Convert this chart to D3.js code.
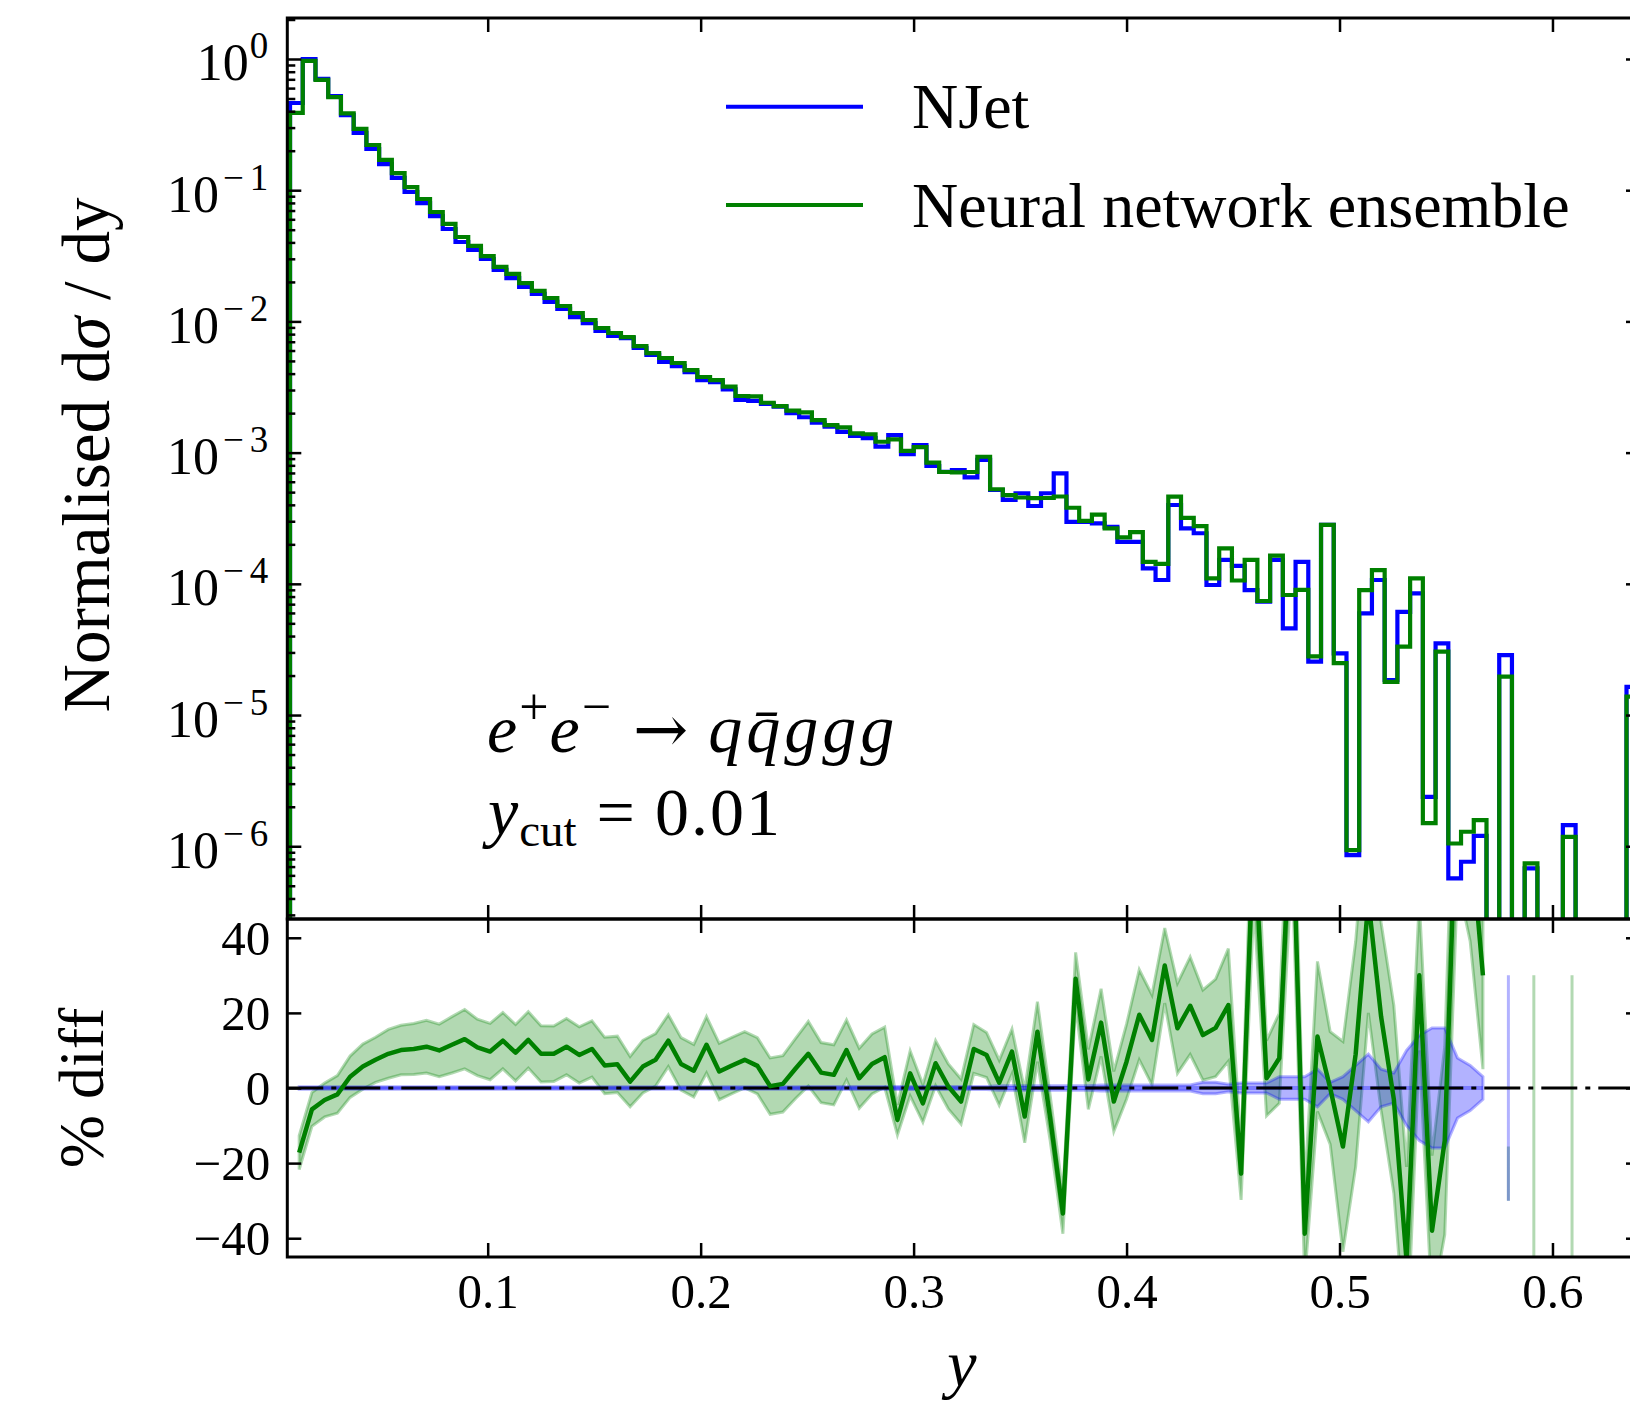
<!DOCTYPE html>
<html>
<head>
<meta charset="utf-8">
<title>NJet vs neural network ensemble</title>
<script src="https://cdn.jsdelivr.net/npm/d3@7"></script>
<style>
  body { margin: 0; background: #fff; }
  text { font-family: "Liberation Serif", "DejaVu Serif", serif; fill: #000; }
</style>
</head>
<body>
<svg id="chart"></svg>
<script>
// Histogram binning in y (106 equal-width bins)
const binStart = 0.00718;
const binWidth = 0.005977;

// Normalised dsigma/dy, NJet (0 = empty bin)
const njet = [
  0.462, 1.0, 0.705, 0.522, 0.374, 0.273, 0.206, 0.158, 0.124, 0.0969,
  0.0798, 0.0635, 0.0506, 0.0403, 0.0350, 0.0299, 0.0247, 0.0214, 0.0183, 0.0162,
  0.0141, 0.01245, 0.0108, 0.00972, 0.00845, 0.00774, 0.00747, 0.00627, 0.00555, 0.00491,
  0.00457, 0.00411, 0.00357, 0.00345, 0.00303, 0.00252, 0.00248, 0.00235, 0.00224, 0.00200,
  0.00186, 0.00169, 0.00158, 0.00144, 0.00134, 0.00129, 0.00111, 0.00136, 0.000975, 0.00114,
  0.000791, 0.000715, 0.000736, 0.000648, 0.000879, 0.000519, 0.000436, 0.000490, 0.000392, 0.000490,
  0.000695, 0.000297, 0.000297, 0.000289, 0.000272, 0.000209, 0.000209, 0.000131, 0.000107, 0.000399,
  0.000265, 0.000243, 9.8e-5, 1.52e-4, 1.37e-4, 8.97e-5, 7.31e-5, 1.52e-4, 4.58e-5, 1.47e-4,
  2.55e-5, 2.81e-4, 2.95e-5, 8.57e-7, 5.96e-5, 1.07e-4, 1.85e-5, 6.12e-5, 8.47e-5, 2.38e-6,
  3.52e-5, 5.69e-7, 7.62e-7, 1.20e-6, 0, 2.86e-5, 0, 6.79e-7, 0, 0,
  1.45e-6, 0, 0, 0, 0, 1.64e-5
];

// Normalised dsigma/dy, neural network ensemble
const ensemble = [
  0.388, 0.966, 0.692, 0.513, 0.385, 0.293, 0.221, 0.170, 0.135, 0.1057,
  0.0857, 0.0682, 0.0553, 0.0440, 0.0376, 0.0315, 0.0260, 0.0230, 0.0196, 0.0171,
  0.01508, 0.01310, 0.01159, 0.01025, 0.00891, 0.00816, 0.00760, 0.00649, 0.00574, 0.00526,
  0.00482, 0.00426, 0.00377, 0.00357, 0.00318, 0.00270, 0.00268, 0.00240, 0.00226, 0.00209,
  0.00203, 0.00177, 0.00162, 0.00156, 0.00140, 0.00138, 0.00121, 0.00126, 0.00103, 0.00110,
  0.000838, 0.000712, 0.000708, 0.000712, 0.00093, 0.000526, 0.000475, 0.000455, 0.00045, 0.000451,
  0.000463, 0.00038, 0.000302, 0.000337, 0.000265, 0.000226, 0.000248, 0.000147, 0.000142, 0.000462,
  0.000318, 0.000275, 0.00011, 0.000186, 0.000106, 0.000152, 7.4e-5, 0.000164, 8.22e-5, 9.0e-5,
  2.8e-5, 2.81e-4, 2.49e-5, 9.35e-7, 8.97e-5, 1.27e-4, 1.79e-5, 3.32e-5, 1.10e-4, 1.50e-6,
  3.04e-5, 1.05e-6, 1.29e-6, 1.58e-6, 0, 1.96e-5, 0, 7.41e-7, 0, 0,
  1.18e-6, 0, 0, 0, 0, 1.38e-5
];

// % difference of the ensemble w.r.t. NJet (null = not drawn)
const pctDiff = [
  -17.2, -5.7, -3.2, -1.7, 3.0, 5.7, 7.5, 9.1, 10.1, 10.4,
  11.0, 10.0, 11.5, 13.0, 10.8, 9.7, 12.6, 9.4, 12.8, 9.1,
  9.1, 11.0, 8.8, 10.4, 6.0, 6.3, 1.7, 5.7, 7.5, 12.6,
  6.4, 4.6, 11.5, 4.4, 6.0, 7.5, 5.9, 0.5, 1.1, 5.2,
  9.1, 4.1, 3.5, 10.1, 2.6, 6.4, 8.2, -8.5, 3.9, -4.1,
  6.6, 0.4, -3.6, 10.4, 8.8, 1.4, 9.7, -7.6, 15.0, -8.0,
  -33.4, 29.1, 2.3, 17.4, -3.6, 7.0, 19.5, 12.8, 32.6, 15.9,
  21.9, 14.1, 16.0, 22.1, -22.8, 69, 2.6, 7.9, 79, -38.8,
  13.7, 0, -15.6, 9, 50, 19, -3, -46, 30, -38,
  -14, 85, 69, 30, null, -22.8, null, -8, null, null,
  -8, null, null, null, null, null
];

// ensemble uncertainty band half-width (%)
const pctDiffErr = [
  4.5, 4.5, 4.5, 5, 5.5, 6, 6, 6.5, 6.6, 6.8,
  7, 7, 7.5, 7.9, 7.5, 7.5, 7.5, 7.5, 7.5, 7.5,
  7.4, 7.5, 7.5, 7.5, 7.5, 7.5, 6.7, 7, 7, 6.9,
  7, 7, 7.5, 7.5, 7.5, 7.5, 7.5, 7.5, 7.5, 8,
  8.6, 8, 8, 8, 8, 8, 8, 4, 6, 5,
  6, 6, 6, 6.5, 6, 6, 6, 7, 8, 6,
  5.4, 7, 8, 9, 8, 10, 12, 12, 10, 12,
  13, 12, 13, 15, 7, 20, 10, 12, 20, 12,
  20, 15, 28, 30, 30, 25, 25, 25, 20, 20,
  25, 30, 30, 25, null, 7.2, null, 38, null, null,
  38, null, null, null, null, null
];

// NJet uncertainty band half-width (%)
const njetErr = [
  0.3, 0.3, 0.3, 0.3, 0.3, 0.3, 0.3, 0.3, 0.3, 0.3,
  0.3, 0.3, 0.3, 0.3, 0.3, 0.3, 0.3, 0.3, 0.3, 0.3,
  0.3, 0.3, 0.3, 0.3, 0.3, 0.3, 0.3, 0.3, 0.3, 0.3,
  0.3, 0.3, 0.3, 0.3, 0.3, 0.3, 0.3, 0.3, 0.3, 0.3,
  0.4, 0.4, 0.4, 0.4, 0.4, 0.4, 0.4, 0.4, 0.4, 0.4,
  0.4, 0.4, 0.4, 0.4, 0.4, 0.6, 0.6, 0.6, 0.6, 0.6,
  0.6, 0.6, 0.6, 0.8, 0.8, 0.8, 0.8, 0.8, 0.8, 0.8,
  0.8, 1.5, 1.5, 1.0, 1.3, 1.3, 1.3, 3.0, 3.0, 3.0,
  5.0, 1.5, 3, 6, 9, 5, 4, 10, 14, 16,
  16, 8, 6, 3, null, 30, null, null, null, null,
  null, null, null, null, null, null
];

const xTicks = [0.1, 0.2, 0.3, 0.4, 0.5, 0.6];
const logExponents = [0, -1, -2, -3, -4, -5, -6];
const diffTicks = [-40, -20, 0, 20, 40];
const seriesNames = ['NJet', 'Neural network ensemble'];

// Layout
const W = 1630, H = 1401;
const left = 287.3, right = 1640;
const top1 = 18, bottom1 = 919, bottom2 = 1257;
const blue = '#0000ff', green = '#008000';
const diffShift = 0.72; // ratio points sit slightly right of bin middle

const nBins = njet.length;
const edges = d3.range(nBins + 1).map(i => binStart + i * binWidth);
const ratioX = d3.range(nBins).map(i => binStart + (i + diffShift) * binWidth);

const x = d3.scaleLinear().domain([0.0059, 0.6411]).range([left, right]);
const yMain = d3.scaleLog().domain([2.79e-7, 2.053]).range([bottom1, top1]);
const yDiff = d3.scaleLinear().domain([-45, 45]).range([bottom2, bottom1]);

const svg = d3.select('#chart').attr('width', W).attr('height', H);

const defs = svg.append('defs');
defs.append('clipPath').attr('id', 'clip-main')
    .append('rect')
    .attr('x', left).attr('y', top1)
    .attr('width', right - left).attr('height', bottom1 - top1);
defs.append('clipPath').attr('id', 'clip-diff')
    .append('rect')
    .attr('x', left).attr('y', bottom1)
    .attr('width', right - left).attr('height', bottom2 - bottom1);

// Main panel: step histograms

const below = yMain.domain()[0] / 10;
const step = d3.line()
    .curve(d3.curveStepAfter)
    .x(d => x(d[0]))
    .y(d => yMain(d[1] > 0 ? d[1] : below));

function stepPoints(vals) {
    const pts = [[edges[0], 0]];
    vals.forEach((v, i) => pts.push([edges[i], v]));
    pts.push([edges[nBins], vals[nBins - 1]]);
    pts.push([edges[nBins], 0]);
    return pts;
}

const main = svg.append('g').attr('clip-path', 'url(#clip-main)');

[[njet, blue], [ensemble, green]].forEach(([vals, color]) => {
    main.append('path')
        .attr('d', step(stepPoints(vals)))
        .attr('fill', 'none')
        .attr('stroke', color)
        .attr('stroke-width', 4.2)
        .attr('stroke-linejoin', 'miter');
});

// Ratio panel

const diff = svg.append('g').attr('clip-path', 'url(#clip-diff)');
const idx = d3.range(nBins);

diff.append('path')
    .attr('d', d3.area()
        .defined(i => pctDiff[i] != null)
        .x(i => x(ratioX[i]))
        .y0(i => yDiff(pctDiff[i] - pctDiffErr[i]))
        .y1(i => yDiff(pctDiff[i] + pctDiffErr[i]))(idx))
    .attr('fill', green).attr('fill-opacity', 0.3)
    .attr('stroke', green).attr('stroke-opacity', 0.3).attr('stroke-width', 3);

diff.append('path')
    .attr('d', d3.area()
        .defined(i => njetErr[i] != null)
        .x(i => x(ratioX[i]))
        .y0(i => yDiff(-njetErr[i]))
        .y1(i => yDiff(njetErr[i]))(idx))
    .attr('fill', blue).attr('fill-opacity', 0.3)
    .attr('stroke', blue).attr('stroke-opacity', 0.3).attr('stroke-width', 3);

diff.append('path')
    .attr('d', d3.line()
        .defined(i => njetErr[i] != null)
        .x(i => x(ratioX[i]))
        .y(() => yDiff(0))(idx))
    .attr('fill', 'none')
    .attr('stroke', blue).attr('stroke-opacity', 0.3).attr('stroke-width', 4);

diff.append('line')
    .attr('x1', left).attr('x2', right)
    .attr('y1', yDiff(0)).attr('y2', yDiff(0))
    .attr('stroke', '#000').attr('stroke-width', 3)
    .attr('stroke-dasharray', '36,8,5,8');

diff.append('path')
    .attr('d', d3.line()
        .defined(i => pctDiff[i] != null)
        .x(i => x(ratioX[i]))
        .y(i => yDiff(pctDiff[i]))(idx))
    .attr('fill', 'none')
    .attr('stroke', green).attr('stroke-width', 4.5)
    .attr('stroke-linejoin', 'round');

// Axes

function tidy(g) {
    g.attr('font-size', null).attr('font-family', null);
    g.select('.domain').remove();
    g.selectAll('.tick line').attr('stroke', '#000').attr('stroke-width', 2.5);
    return g;
}

const isDecade = d => Math.abs(Math.log10(d) - Math.round(Math.log10(d))) < 1e-6;
const majorVals = logExponents.map(e => Math.pow(10, e));
const minorVals = yMain.ticks().filter(d => !isDecade(d));

// left, main
const gMainL = svg.append('g').attr('transform', `translate(${left},0)`)
    .call(d3.axisLeft(yMain).tickValues(majorVals).tickSize(-14).tickPadding(19).tickFormat(() => ''));
tidy(gMainL);
gMainL.selectAll('.tick text').each(function (d) {
    const e = Math.round(Math.log10(d));
    const t = d3.select(this).attr('dy', null).attr('y', 21).attr('font-size', 52);
    t.append('tspan').text('10');
    if (e === 0) {
        t.append('tspan').attr('font-size', 37).attr('dx', 1).attr('dy', -22).text('0');
    } else {
        t.append('tspan').attr('font-size', 37).attr('dx', 4).attr('dy', -22).text('\u2212');
        t.append('tspan').attr('font-size', 37).attr('dx', 6).text(String(-e));
    }
});
tidy(svg.append('g').attr('transform', `translate(${left},0)`)
    .call(d3.axisLeft(yMain).tickValues(minorVals).tickSize(-8).tickFormat(() => '')));

// right, main
tidy(svg.append('g').attr('transform', `translate(${right},0)`)
    .call(d3.axisRight(yMain).tickValues(majorVals).tickSize(-14).tickFormat(() => '')));
tidy(svg.append('g').attr('transform', `translate(${right},0)`)
    .call(d3.axisRight(yMain).tickValues(minorVals).tickSize(-8).tickFormat(() => '')));

// top and bottom of main
tidy(svg.append('g').attr('transform', `translate(0,${top1})`)
    .call(d3.axisTop(x).tickValues(xTicks).tickSize(-14).tickFormat(() => '')));
tidy(svg.append('g').attr('transform', `translate(0,${bottom1})`)
    .call(d3.axisBottom(x).tickValues(xTicks).tickSize(-14).tickFormat(() => '')));

// ratio panel axes
tidy(svg.append('g').attr('transform', `translate(0,${bottom1})`)
    .call(d3.axisTop(x).tickValues(xTicks).tickSize(-14).tickFormat(() => '')));
const gDiffB = tidy(svg.append('g').attr('transform', `translate(0,${bottom2})`)
    .call(d3.axisBottom(x).tickValues(xTicks).tickSize(-14).tickFormat(d3.format('.1f'))));
gDiffB.selectAll('.tick text').attr('y', 51).attr('dy', null).attr('font-size', 49);

const gDiffL = tidy(svg.append('g').attr('transform', `translate(${left},0)`)
    .call(d3.axisLeft(yDiff).tickValues(diffTicks).tickSize(-14).tickPadding(17).tickFormat(d3.format('d'))));
gDiffL.selectAll('.tick text').attr('dy', '0.34em').attr('font-size', 49);
tidy(svg.append('g').attr('transform', `translate(${right},0)`)
    .call(d3.axisRight(yDiff).tickValues(diffTicks).tickSize(-14).tickFormat(() => '')));

// frames
[[top1, bottom1], [bottom1, bottom2]].forEach(([a, b]) => {
    svg.append('rect')
        .attr('x', left).attr('y', a)
        .attr('width', right - left).attr('height', b - a)
        .attr('fill', 'none').attr('stroke', '#000').attr('stroke-width', 3);
});

// Axis titles

const yTitle = svg.append('text')
    .attr('transform', 'translate(109,455) rotate(-90)')
    .attr('text-anchor', 'middle')
    .attr('font-size', 67);
yTitle.append('tspan').text('Normalised d');
yTitle.append('tspan').attr('font-style', 'italic').text('\u03c3');
yTitle.append('tspan').text(' / dy');

svg.append('text')
    .attr('transform', 'translate(103,1088) rotate(-90)')
    .attr('text-anchor', 'middle')
    .attr('font-size', 64)
    .text('% diff');

svg.append('text')
    .attr('x', 962).attr('y', 1386)
    .attr('text-anchor', 'middle')
    .attr('font-size', 66)
    .attr('font-style', 'italic')
    .text('y');

// Legend

const legend = svg.append('g');
seriesNames.forEach((name, i) => {
    const ly = [106.7, 205][i];
    legend.append('line')
        .attr('x1', 726).attr('x2', 863)
        .attr('y1', ly).attr('y2', ly)
        .attr('stroke', [blue, green][i]).attr('stroke-width', 4);
    legend.append('text')
        .attr('x', 912).attr('y', ly + 21.5)
        .attr('font-size', 64)
        .text(name);
});

// Process annotation

const proc = svg.append('text').attr('x', 487).attr('y', 752).attr('font-size', 68);
proc.append('tspan').attr('font-style', 'italic').text('e');
proc.append('tspan').attr('font-size', 52).attr('dx', 2).attr('dy', -28).text('+');
proc.append('tspan').attr('font-style', 'italic').attr('dx', 1).attr('dy', 28).text('e');
proc.append('tspan').attr('font-size', 52).attr('dx', 2).attr('dy', -28).text('\u2212');
proc.append('tspan').attr('dy', 28).attr('dx', 22)
    .attr('font-family', 'DejaVu Serif').attr('font-size', 66).text('\u2192');
proc.append('tspan').attr('font-style', 'italic').attr('dx', 20)
    .attr('letter-spacing', 4).text('q');
proc.append('tspan').attr('font-style', 'italic').attr('letter-spacing', 4).text('q\u0304');
proc.append('tspan').attr('font-style', 'italic').attr('letter-spacing', 4).text('ggg');

const cut = svg.append('text').attr('x', 488).attr('y', 835).attr('font-size', 68);
cut.append('tspan').attr('font-style', 'italic').text('y');
cut.append('tspan').attr('font-size', 47).attr('dx', 1).attr('dy', 11).text('cut');
cut.append('tspan').attr('dy', -11).attr('dx', 20).text('=');
cut.append('tspan').attr('dx', 20).attr('letter-spacing', 2).text('0.01');
</script>
</body>
</html>
